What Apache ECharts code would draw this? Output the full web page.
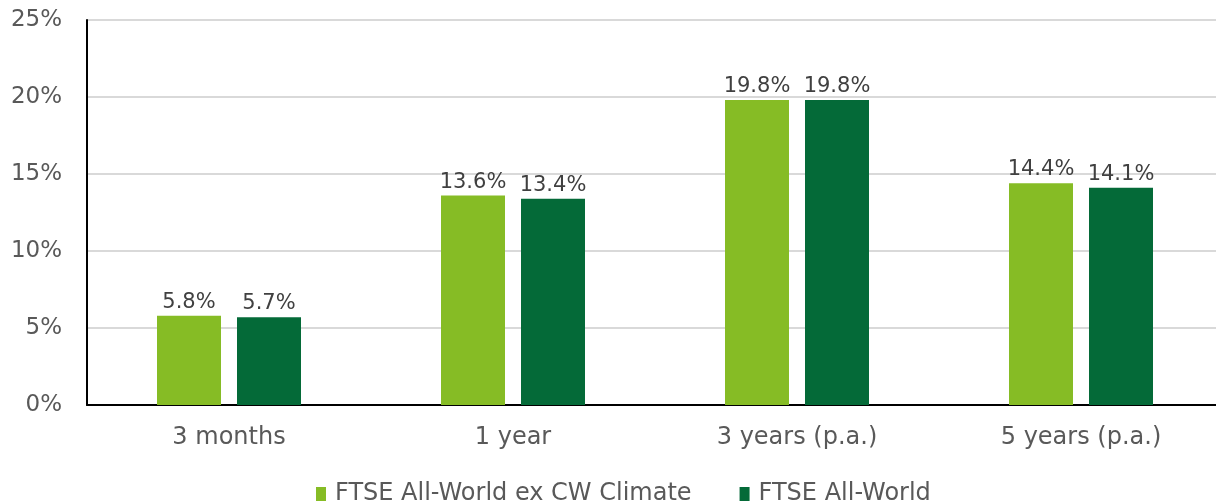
<!DOCTYPE html>
<html>
<head>
<meta charset="utf-8">
<script src="https://cdn.jsdelivr.net/npm/echarts@6/dist/echarts.min.js"></script>
<style>
  html, body { margin: 0; padding: 0; background: #fff; }
  #chart { width: 1216px; height: 501px; }
</style>
</head>
<body>
<div id="chart"></div>
<script>
// periods and returns (%)
var periods = ['3 months', '1 year', '3 years (p.a.)', '5 years (p.a.)'];
var exClimate = [5.8, 13.6, 19.8, 14.4];
var allWorld = [5.7, 13.4, 19.8, 14.1];
var seriesNames = ['FTSE All-World ex CW Climate', 'FTSE All-World'];
var yTicks = [0, 5, 10, 15, 20, 25];

var myChart = echarts.init(document.getElementById('chart'));

var labelStyle = {
    show: true,
    position: 'top',
    distance: 3,
    color: '#404040',
    fontSize: 21,
    fontFamily: 'DejaVu Sans',
    formatter: function (p) { return p.value.toFixed(1) + '%'; }
};

var option = {
    backgroundColor: '#fff',
    animation: false,
    grid: {
        left: 87,
        top: 20,
        width: 1136,
        height: 385,
        outerBoundsMode: 'none'
    },
    legend: {
        top: 477,
        left: 311,
        itemWidth: 10,
        itemHeight: 14,
        itemGap: 48,
        icon: 'rect',
        textStyle: {
            color: '#595959',
            fontSize: 24,
            fontFamily: 'DejaVu Sans',
            padding: [0, 0, 0, 4]
        },
        data: seriesNames
    },
    xAxis: {
        type: 'category',
        data: periods,
        axisLine: { lineStyle: { color: '#000', width: 2 } },
        axisTick: { show: false },
        axisLabel: {
            color: '#595959',
            fontSize: 24,
            fontFamily: 'DejaVu Sans',
            margin: 21
        }
    },
    yAxis: {
        type: 'value',
        min: yTicks[0],
        max: yTicks[yTicks.length - 1],
        interval: 5,
        axisLine: { show: true, lineStyle: { color: '#000', width: 2 } },
        axisTick: { show: false },
        splitLine: { lineStyle: { color: '#d9d9d9', width: 2 } },
        axisLabel: {
            color: '#595959',
            fontSize: 23,
            fontFamily: 'DejaVu Sans',
            margin: 25,
            formatter: '{value}%'
        }
    },
    series: [{
        name: seriesNames[0],
        type: 'bar',
        data: exClimate,
        barWidth: 64,
        barGap: '25%',
        itemStyle: { color: '#86bc25' },
        label: labelStyle
    }, {
        name: seriesNames[1],
        type: 'bar',
        data: allWorld,
        barWidth: 64,
        itemStyle: { color: '#046a38' },
        label: labelStyle
    }]
};
myChart.setOption(option);
window.onresize = function () {
    myChart.resize();
};
</script>
</body>
</html>
